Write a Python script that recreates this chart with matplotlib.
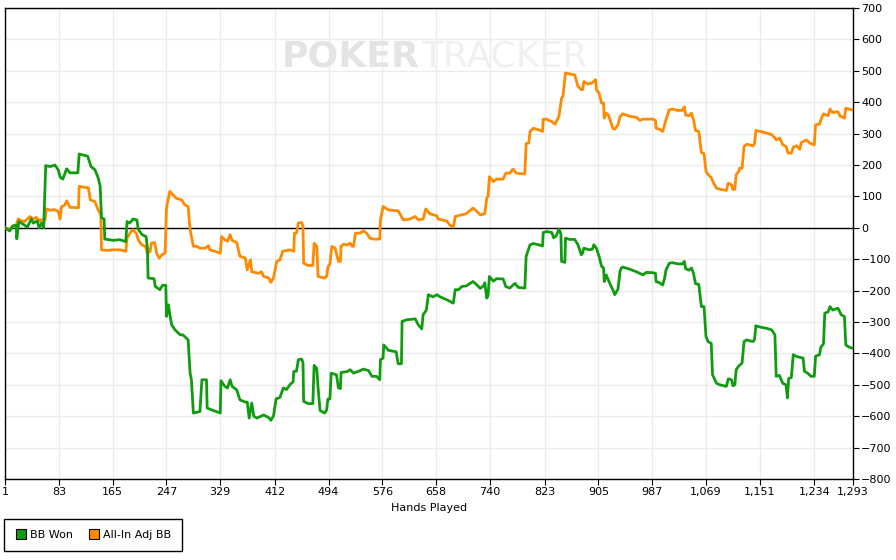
import matplotlib
matplotlib.use("Agg")
import matplotlib.pyplot as plt
from matplotlib.lines import Line2D

# hands played / big blinds
bb_won_hands = [1, 8, 13, 18, 19, 22, 31, 35, 41, 44, 50, 53, 57, 60, 63, 70, 77, 82, 85, 89, 95, 100,
                112, 114, 127, 132, 138, 143, 146, 148, 152, 153, 166, 176, 185, 187, 191, 196, 202, 204,
                210, 216, 218, 219, 228, 230, 237, 241, 246, 247, 250, 252, 255, 260, 268, 272, 280, 283,
                285, 288, 298, 301, 308, 309, 316, 329, 330, 336, 340, 344, 347, 354, 359, 367, 370, 373,
                377, 380, 385, 395, 403, 406, 410, 414, 420, 425, 430, 435, 440, 441, 445, 448, 453, 455,
                456, 463, 470, 472, 476, 478, 481, 488, 491, 493, 496, 498, 506, 509, 512, 513, 522, 527,
                532, 542, 547, 555, 560, 567, 572, 573, 577, 578, 585, 597, 600, 605, 606, 613, 626, 631,
                636, 638, 643, 646, 653, 659, 664, 674, 684, 687, 692, 697, 704, 714, 720, 725, 730, 732,
                735, 737, 739, 745, 750, 760, 764, 770, 778, 783, 793, 795, 801, 806, 814, 820, 821, 826,
                834, 837, 841, 845, 848, 849, 854, 855, 861, 869, 874, 879, 881, 883, 891, 896, 898, 902,
                906, 910, 913, 914, 917, 920, 922, 927, 930, 935, 938, 940, 942, 953, 963, 968, 973, 978,
                988, 992, 993, 998, 1003, 1006, 1008, 1013, 1018, 1026, 1033, 1036, 1038, 1043, 1047, 1050,
                1053, 1058, 1062, 1066, 1069, 1072, 1077, 1079, 1085, 1090, 1100, 1103, 1108, 1110, 1113,
                1115, 1119, 1124, 1127, 1131, 1136, 1141, 1143, 1145, 1151, 1161, 1169, 1174, 1176, 1181,
                1184, 1186, 1191, 1193, 1195, 1199, 1202, 1207, 1217, 1219, 1224, 1229, 1234, 1236, 1242,
                1244, 1248, 1250, 1255, 1258, 1262, 1270, 1275, 1280, 1282, 1287, 1293]
bb_won = [0, -10, 6, 8, -35, 20, 8, 2, 28, 15, 22, 0, 15, 0, 198, 195, 200, 185, 162, 155, 188, 175,
          175, 235, 228, 195, 185, 159, 132, 32, 28, -36, -40, -38, -44, 20, 15, 28, 25, -5,
          -22, -28, -65, -160, -162, -187, -197, -183, -183, -282, -245, -275, -309, -325, -341, -341, -357, -462,
          -484, -590, -585, -484, -484, -574, -580, -590, -487, -505, -510, -484, -505, -516, -548, -555, -555, -606,
          -558, -600, -606, -596, -605, -613, -600, -545, -540, -510, -515, -500, -490, -457, -457, -420, -418, -430,
          -553, -560, -560, -438, -448, -510, -582, -590, -580, -545, -545, -463, -468, -510, -512, -461, -458, -452,
          -463, -455, -450, -455, -473, -473, -484, -420, -415, -373, -390, -395, -433, -433, -298, -293, -290, -310,
          -322, -277, -262, -213, -220, -213, -220, -229, -240, -197, -197, -187, -185, -171, -182, -193, -185, -175,
          -224, -215, -155, -170, -162, -163, -187, -192, -177, -190, -192, -91, -54, -50, -54, -58, -15, -12,
          -15, -32, -25, -4, -20, -107, -110, -33, -37, -37, -54, -86, -80, -65, -70, -68, -54, -65,
          -90, -123, -128, -171, -150, -165, -175, -197, -213, -195, -139, -128, -125, -132, -140, -145, -150, -142,
          -143, -145, -171, -175, -182, -160, -135, -113, -111, -115, -115, -107, -130, -135, -128, -145,
          -178, -180, -251, -251, -346, -362, -368, -468, -495, -500, -505, -481, -484, -503, -500,
          -452, -440, -431, -362, -357, -360, -362, -356, -312, -316, -320, -325, -341, -473, -470,
          -486, -495, -500, -542, -480, -477, -404, -410, -415, -457, -463, -473, -473, -409, -404,
          -380, -370, -272, -268, -251, -262, -256, -277, -283, -373, -380, -384]

allin_hands = [1, 8, 13, 18, 21, 26, 31, 39, 44, 49, 54, 56, 62, 64, 70, 77, 82, 85, 87, 92, 95, 100,
               113, 114, 128, 131, 138, 143, 147, 148, 156, 166, 176, 185, 187, 192, 196, 201, 204, 209,
               215, 218, 222, 224, 229, 232, 236, 240, 245, 247, 252, 257, 262, 270, 275, 280, 283, 288,
               293, 298, 306, 311, 313, 321, 329, 331, 336, 340, 344, 347, 354, 359, 367, 370, 375, 377,
               387, 392, 395, 403, 406, 410, 415, 420, 424, 435, 441, 442, 445, 448, 453, 455, 456, 463,
               470, 472, 476, 478, 488, 491, 493, 496, 499, 504, 509, 512, 513, 517, 522, 527, 530, 532,
               535, 542, 547, 552, 557, 562, 572, 573, 577, 585, 600, 608, 618, 626, 631, 638, 642, 648,
               659, 661, 666, 674, 679, 684, 687, 694, 704, 714, 720, 725, 732, 735, 737, 739, 745, 750,
               760, 764, 770, 775, 780, 788, 793, 795, 799, 801, 806, 814, 820, 821, 826, 834, 839, 845,
               849, 851, 855, 861, 869, 874, 879, 881, 883, 889, 894, 898, 901, 902, 906, 910, 913, 914,
               917, 920, 922, 927, 930, 935, 938, 942, 953, 963, 968, 973, 988, 992, 993, 998, 1003, 1006,
               1008, 1013, 1018, 1026, 1033, 1036, 1038, 1043, 1047, 1050, 1053, 1058, 1062, 1066, 1069,
               1072, 1077, 1080, 1085, 1090, 1100, 1103, 1108, 1110, 1113, 1115, 1119, 1120, 1124, 1127,
               1131, 1136, 1141, 1143, 1145, 1151, 1161, 1169, 1174, 1176, 1181, 1184, 1186, 1191, 1194,
               1199, 1202, 1207, 1212, 1214, 1222, 1227, 1234, 1236, 1242, 1244, 1248, 1255, 1258, 1262,
               1270, 1273, 1280, 1282, 1287, 1293]
allin_adj = [0, -5, 6, 8, 28, 22, 20, 36, 28, 33, 20, 25, 25, 60, 56, 58, 52, 28, 67, 72, 86, 65,
             64, 132, 127, 89, 83, 57, 42, -70, -72, -70, -70, -75, -33, -15, -6, -17, -38, -54,
             -59, -81, -76, -49, -47, -81, -97, -86, -80, 63, 116, 105, 94, 89, 73, 68, -6, -59,
             -59, -65, -65, -57, -70, -75, -81, -28, -38, -43, -22, -40, -47, -91, -96, -134, -102, -140,
             -145, -140, -155, -160, -174, -160, -107, -102, -75, -70, -75, -17, -17, 15, 17, 5, -113, -120,
             -120, -49, -59, -155, -160, -155, -125, -115, -59, -65, -107, -107, -59, -52, -55, -49, -59, -59,
             -17, -17, -10, -17, -33, -36, -36, 25, 68, 57, 54, 25, 28, 36, 25, 28, 60, 45,
             38, 28, 25, 22, 8, 2, 36, 40, 45, 63, 52, 41, 45, 95, 100, 163, 147, 155,
             155, 174, 174, 187, 174, 172, 172, 268, 270, 307, 317, 312, 307, 346, 346, 338, 330, 355,
             413, 418, 493, 490, 487, 450, 440, 440, 466, 458, 460, 466, 472, 440, 429, 397, 397, 349,
             365, 360, 349, 317, 314, 328, 354, 363, 355, 352, 342, 346, 346, 342, 317, 314, 307, 328,
             344, 376, 378, 374, 374, 385, 359, 357, 365, 344, 310, 307, 240, 236, 180,
             170, 160, 145, 126, 123, 119, 142, 137, 122, 123, 169, 180, 190, 190, 259,
             266, 264, 261, 269, 310, 307, 302, 297, 286, 280, 286, 275, 264, 259, 238,
             238, 257, 261, 250, 271, 280, 270, 264, 328, 330, 344, 363, 357, 378, 367,
             370, 357, 349, 381, 378, 375]

x_ticks = [1, 83, 165, 247, 329, 412, 494, 576, 658, 740, 823, 905, 987, 1069, 1151, 1234, 1293]
y_ticks = list(range(-800, 701, 100))

GREEN = "#109c10"
ORANGE = "#ff8a00"

fig = plt.figure(figsize=(8.96, 5.6), dpi=100)
ax = fig.add_axes([5 / 896, 1 - 479 / 560, 848 / 896, 471 / 560])

ax.set_xlim(1, 1293)
ax.set_ylim(-800, 700)
ax.set_xticks(x_ticks)
ax.set_xticklabels([f"{t:,}" for t in x_ticks])
ax.set_yticks(y_ticks)
ax.yaxis.tick_right()
ax.tick_params(axis="both", labelsize=8, direction="out", length=4, width=0.8, pad=2)
ax.grid(True, color="#ebebeb", linewidth=1)
ax.set_axisbelow(True)
for sp in ax.spines.values():
    sp.set_linewidth(1)
ax.axhline(0, color="black", linewidth=1, zorder=2)

# watermark
ax.text(0.489, 0.896, "POKER", transform=ax.transAxes, fontsize=26, fontweight="bold",
        color="#e4e4e4", ha="right", va="center", zorder=1)
ax.text(0.491, 0.896, "TRACKER", transform=ax.transAxes, fontsize=26,
        color="#f0f0f0", ha="left", va="center", zorder=1)

ax.plot(allin_hands, allin_adj, color=ORANGE, linewidth=2, zorder=3)
ax.plot(bb_won_hands, bb_won, color=GREEN, linewidth=2, zorder=4)

ax.set_xlabel("Hands Played", fontsize=8, labelpad=4)

handles = [
    Line2D([], [], marker="s", linestyle="none", markersize=7, markerfacecolor=GREEN,
           markeredgecolor="black", markeredgewidth=0.8),
    Line2D([], [], marker="s", linestyle="none", markersize=7, markerfacecolor=ORANGE,
           markeredgecolor="black", markeredgewidth=0.8),
]
leg = fig.legend(handles, ["BB Won", "All-In Adj BB"], loc="lower left",
                 bbox_to_anchor=(4 / 896, 9 / 560), ncol=2, fontsize=8, frameon=True,
                 fancybox=False, edgecolor="black", framealpha=1, borderaxespad=0,
                 handletextpad=0.3, columnspacing=1.4, borderpad=1.0, handlelength=1.0)
leg.get_frame().set_linewidth(1)

fig.savefig("out.png", dpi=100)
plt.close(fig)
